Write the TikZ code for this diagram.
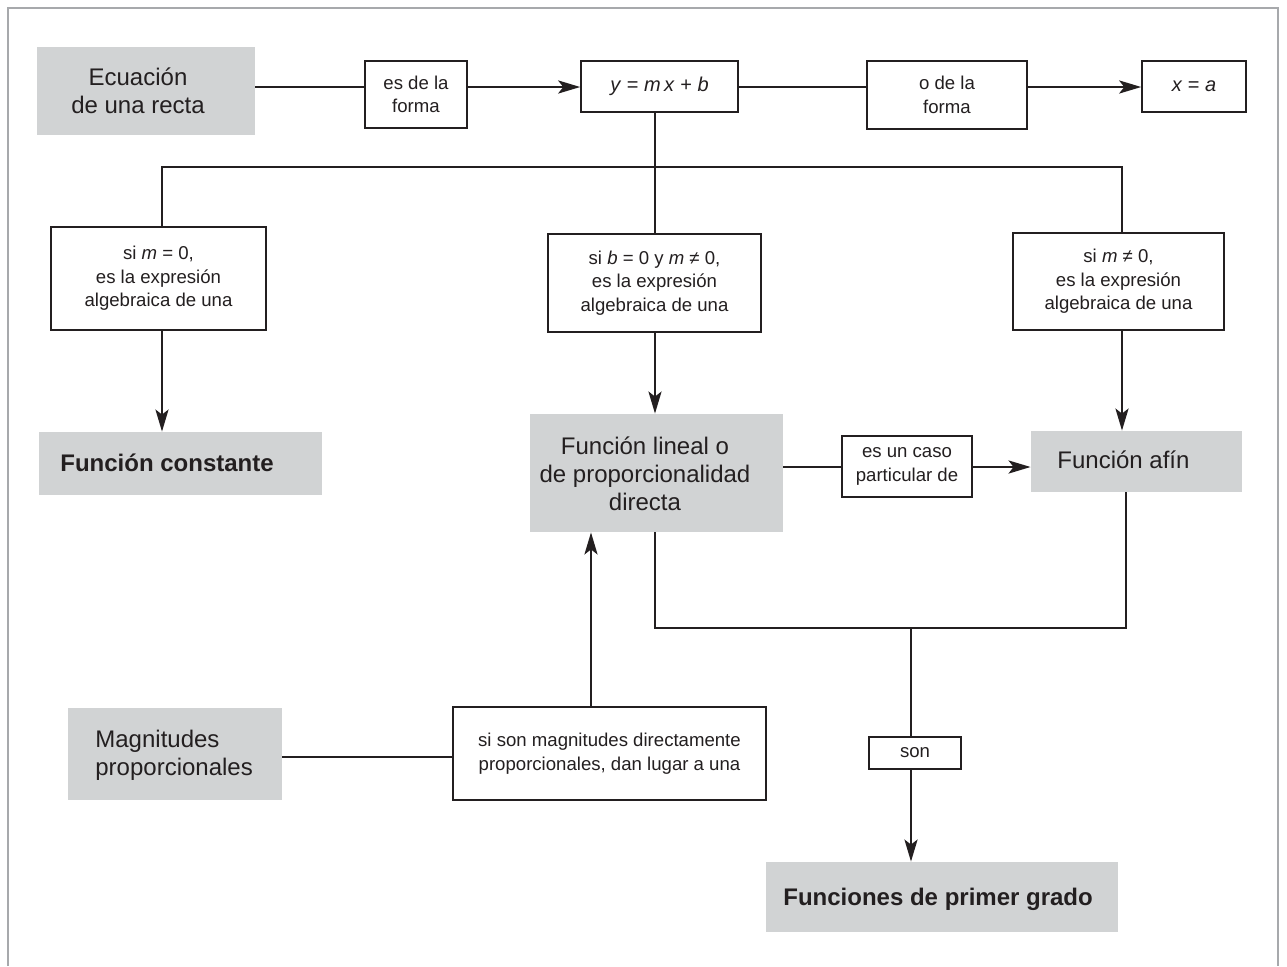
\documentclass[tikz,border=0pt]{standalone}
\usepackage{fontspec}
\setmainfont{Liberation Sans}
\usetikzlibrary{arrows.meta}
\definecolor{boxgray}{HTML}{D1D3D4}
\definecolor{ink}{HTML}{231F20}
\definecolor{framegray}{HTML}{A7A9AC}
\begin{document}
\begin{tikzpicture}[x=0.5pt,y=-0.5pt,
  gbox/.style={fill=boxgray, inner sep=0pt, draw=none},
  wbox/.style={draw=ink, line width=0.75pt, fill=white, inner sep=0pt, font=\fontsize{9.3}{11.8}\selectfont, align=center, text=ink},
  big/.style={font=\fontsize{12}{14}\selectfont, text=ink, inner sep=0pt},
  bigb/.style={font=\bfseries\fontsize{12}{14}\selectfont, text=ink, inner sep=0pt},
  conn/.style={draw=ink, line width=1.35pt},
  arr/.style={conn, -{Stealth[length=11pt,width=6.5pt,inset=2.5pt]}},
]
\useasboundingbox (0,0) rectangle (1287,966);
% frame
\draw[framegray, line width=1pt] (8,966) -- (8,8) -- (1278,8) -- (1278,966);

% gray boxes
\node[gbox, minimum width=109pt, minimum height=44pt] (ec) at (146,91) {};
\node[big, align=center] (ect) at (138,91) {Ecuación\\de una recta};
\node[gbox, minimum width=141.5pt, minimum height=31.5pt] (fc) at (180.5,463.5) {};
\node[bigb, anchor=west] (fct) at (60,463) {Función constante};
\node[gbox, minimum width=126.5pt, minimum height=59pt] (fl) at (656.5,473) {};
\node[big, align=center] (flt) at (645,474) {Función lineal o\\de proporcionalidad\\directa};
\node[gbox, minimum width=105.5pt, minimum height=30.5pt] (fa) at (1136.5,461.5) {};
\node[big, anchor=west] (fat) at (1057,460) {Función afín};
\node[gbox, minimum width=107pt, minimum height=46pt] (mp) at (175,754) {};
\node[big, align=left, anchor=west] (mpt) at (95,755) {Magnitudes\\proporcionales};
\node[gbox, minimum width=176pt, minimum height=35pt] (fp) at (942,897) {};
\node[bigb, anchor=west] (fpt) at (783,899) {Funciones de primer grado};

% white boxes
\node[wbox, minimum width=51pt, minimum height=33.5pt] (esf) at (416,94.5) {es de la\\forma};
\node[wbox, minimum width=78.5pt, minimum height=25.5pt, font=\fontsize{10}{12}\selectfont] (ymxb) at (659.5,86.5) {\textit{y} = \textit{m}\,\textit{x} + \textit{b}};
\node[wbox, minimum width=80pt, minimum height=34pt] (odf) at (947,95) {o de la\\forma};
\node[wbox, minimum width=52pt, minimum height=25.5pt, font=\fontsize{10}{12}\selectfont] (xa) at (1194,86.5) {\textit{x} = \textit{a}};
\node[wbox, minimum width=107.5pt, minimum height=51.5pt] (c1) at (158.5,278.5) {si \textit{m} = 0,\\es la expresión\\algebraica de una};
\node[wbox, minimum width=106.5pt, minimum height=49pt] (c2) at (654.5,283) {si \textit{b} = 0 y \textit{m} ≠ 0,\\es la expresión\\algebraica de una};
\node[wbox, minimum width=105.5pt, minimum height=48.5pt] (c3) at (1118.5,281.5) {si \textit{m} ≠ 0,\\es la expresión\\algebraica de una};
\node[wbox, minimum width=65pt, minimum height=30.5pt] (epc) at (907,466.5) {es un caso\\particular de};
\node[wbox, minimum width=156.5pt, minimum height=46.5pt] (smd) at (609.5,753.5) {si son magnitudes directamente\\proporcionales, dan lugar a una};
\node[wbox, minimum width=46pt, minimum height=16pt] (son) at (915,753) {son};

% helper coordinates
\coordinate (row) at (0,87);
\coordinate (jm) at (655,167);
\coordinate (jl) at (162,167);
\coordinate (jr) at (1122,167);
\coordinate (mid) at (0,467);
\coordinate (mrow) at (0,757);
\coordinate (up) at (591,0);
\coordinate (jb1) at (655,628);
\coordinate (jb2) at (1126,628);
\coordinate (jb3) at (911,628);

% top row
\draw[conn] (ec.east |- row) -- (esf.west |- row);
\draw[arr] (esf.east |- row) -- (ymxb.west |- row);
\draw[conn] (ymxb.east |- row) -- (odf.west |- row);
\draw[arr] (odf.east |- row) -- (xa.west |- row);

% branches
\draw[conn] (ymxb.south -| jm) -- (jm);
\draw[conn, line join=miter] (c1.north -| jl) -- (jl) -- (jr) -- (c3.north -| jr);
\draw[conn] (jm) -- (c2.north -| jm);
\draw[arr] (c1.south -| jl) -- (fc.north -| jl);
\draw[arr] (c2.south -| jm) -- (fl.north -| jm);
\draw[arr] (c3.south -| jr) -- (fa.north -| jr);

% middle
\draw[conn] (fl.east |- mid) -- (epc.west |- mid);
\draw[arr] (epc.east |- mid) -- (fa.west |- mid);

% bottom
\draw[conn] (mp.east |- mrow) -- (smd.west |- mrow);
\draw[arr] (smd.north -| up) -- (fl.south -| up);
\draw[conn, line join=miter] (fl.south -| jb1) -- (jb1) -- (jb2) -- (fa.south -| jb2);
\draw[conn] (jb3) -- (son.north -| jb3);
\draw[arr] (son.south -| jb3) -- (fp.north -| jb3);
\end{tikzpicture}
\end{document}
